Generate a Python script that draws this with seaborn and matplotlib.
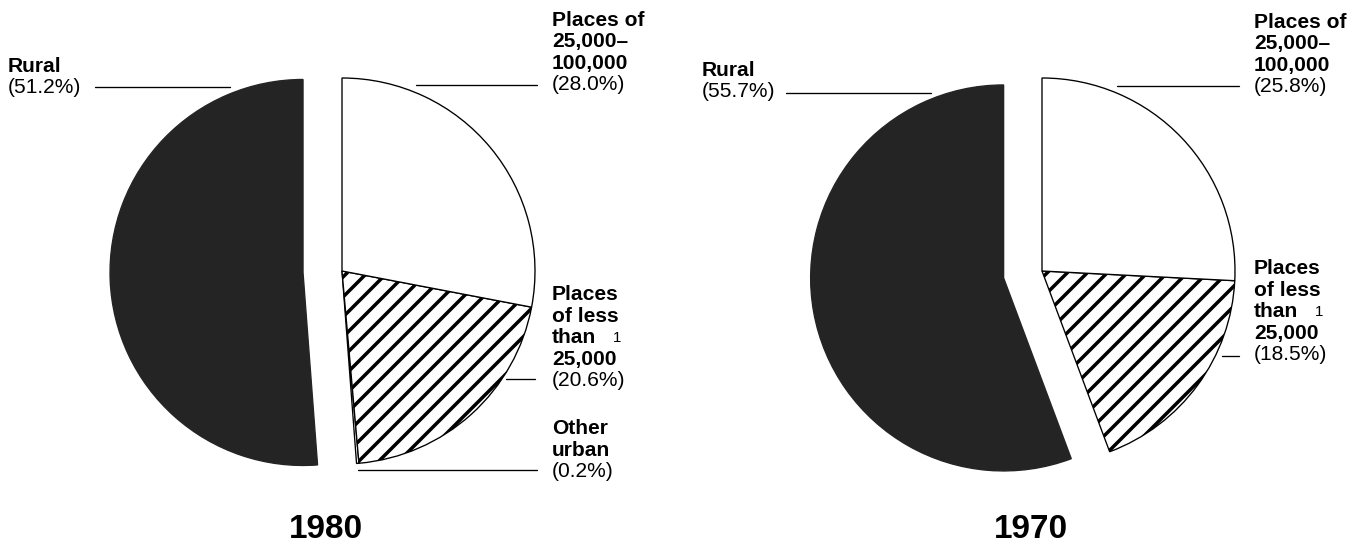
import matplotlib
matplotlib.use("Agg")
import matplotlib.pyplot as plt
import seaborn as sns

# ------------------------------------------
# Data
# ------------------------------------------
W, H, DPI = 1357, 549, 120

categories_1980 = ["Rural", "Other urban", "Places of less than 25,000", "Places of 25,000-100,000"]
shares_1980 = [51.2, 0.2, 20.6, 28.0]

categories_1970 = ["Rural", "Places of less than 25,000", "Places of 25,000-100,000"]
shares_1970 = [55.7, 18.5, 25.8]

years = ["1980", "1970"]

label_lines = {
    "Rural": ["Rural"],
    "Other urban": ["Other", "urban"],
    "Places of less than 25,000": ["Places", "of less", "than", "25,000"],
    "Places of 25,000-100,000": ["Places of", "25,000\u2013", "100,000"],
}

# ------------------------------------------
# Style / layout (pixel units, y measured from top)
# ------------------------------------------
R = 193
EXPLODE = 39
FS = 12.6
STEP = 21.4

wedge_style = {
    "Rural": dict(facecolor="#242424", edgecolor="#242424", hatch=None),
    "Other urban": dict(facecolor="white", edgecolor="black", hatch=None),
    "Places of less than 25,000": dict(facecolor="white", edgecolor="black", hatch="//"),
    "Places of 25,000-100,000": dict(facecolor="white", edgecolor="black", hatch=None),
}

# per pie: center, title position, label layout (text x, cap top, leader x0, x1, y)
layout = {
    "1980": dict(
        center=(342, 271), title=(326, 529),
        labels={
            "Rural": (8, 57.5, 95, 230, 87),
            "Places of 25,000-100,000": (552, 11.5, 416, 537, 85),
            "Places of less than 25,000": (552, 286, 506, 535, 379),
            "Other urban": (552, 420, 358, 537, 470),
        }),
    "1970": dict(
        center=(1042, 271), title=(1031, 529),
        labels={
            "Rural": (702, 61.5, 786, 931, 93),
            "Places of 25,000-100,000": (1254, 13.5, 1117, 1239, 85.5),
            "Places of less than 25,000": (1254, 260, 1222, 1239, 356),
        }),
}


def Y(y):
    return H - y


def draw_pie(ax, cats, vals, year):
    lay = layout[year]
    cx, cy = lay["center"]
    wedges, _ = ax.pie(
        vals,
        startangle=90,
        counterclock=True,
        center=(cx, Y(cy)),
        radius=R,
        explode=[EXPLODE if c == "Rural" else 0 for c in cats],
        wedgeprops=dict(linewidth=0.8),
        frame=True,
    )
    for w, c in zip(wedges, cats):
        st = wedge_style[c]
        w.set_facecolor(st["facecolor"])
        w.set_edgecolor(st["edgecolor"])
        if st["hatch"]:
            w.set_hatch(st["hatch"])

    for c, v in zip(cats, vals):
        tx, cap_top, lx0, lx1, ly = lay["labels"][c]
        base = cap_top + 14.5
        lines = label_lines[c]
        for i, line in enumerate(lines):
            ax.text(tx, Y(base + i * STEP), line, fontsize=FS, fontweight="bold",
                    ha="left", va="baseline")
        ax.text(tx, Y(base + len(lines) * STEP), f"({v:.1f}%)", fontsize=FS,
                ha="left", va="baseline")
        if c == "Places of less than 25,000":
            # footnote marker
            ax.text(tx + 61, Y(base + 3 * STEP - 22.5), "1", fontsize=9,
                    ha="left", va="baseline")
        ax.plot([lx0, lx1], [Y(ly), Y(ly)], color="black", lw=0.8)

    tx, ty = lay["title"]
    ax.text(tx, Y(ty), year, fontsize=20, fontweight="bold", ha="center", va="center")


if __name__ == "__main__":
    sns.set_theme(style="white")
    plt.rcParams["font.family"] = ["Liberation Sans", "DejaVu Sans"]
    plt.rcParams["text.color"] = "black"
    plt.rcParams["hatch.linewidth"] = 2.1

    fig = plt.figure(figsize=(W / DPI, H / DPI), dpi=DPI)
    ax = fig.add_axes([0, 0, 1, 1])

    draw_pie(ax, categories_1980, shares_1980, "1980")
    draw_pie(ax, categories_1970, shares_1970, "1970")

    ax.set_xlim(0, W)
    ax.set_ylim(0, H)
    ax.set_aspect("equal")
    ax.axis("off")

    fig.savefig("out.png", dpi=DPI, facecolor="white")
